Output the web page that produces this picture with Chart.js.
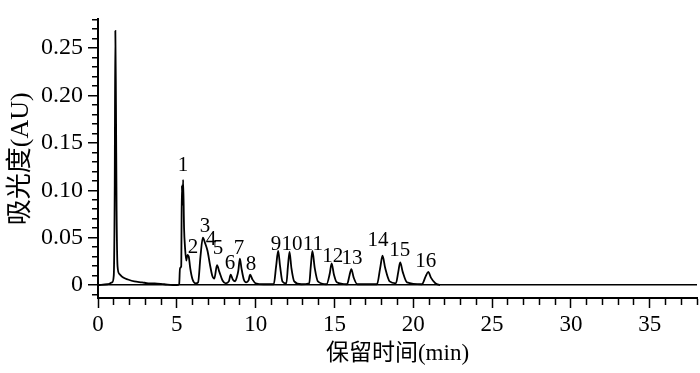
<!DOCTYPE html>
<html>
<head>
<meta charset="utf-8">
<script src="https://cdn.jsdelivr.net/npm/chart.js@4/dist/chart.umd.min.js"></script>
<style>
html,body{margin:0;padding:0;background:#fff;}
#wrap{width:700px;height:373px;}
</style>
</head>
<body>
<div id="wrap"><canvas id="c" width="700" height="373"></canvas></div>
<script>
// Retention time (min) and absorbance (AU)
const retentionTime = [
  0.0, 0.6, 0.9, 1.0, 1.06, 1.1, 1.14, 1.18, 1.24, 1.35, 1.6, 1.9, 2.3, 2.8, 3.2, 3.6, 4.2, 5.0,
  5.15, 5.2, 5.28, 5.32, 5.36, 5.4, 5.46, 5.52, 5.6, 5.68, 5.76, 5.85, 6.0, 6.2, 6.35,
  6.5, 6.65, 6.8, 6.95, 7.1, 7.25, 7.38, 7.55, 7.7, 7.9, 8.1, 8.3, 8.42, 8.55, 8.7,
  8.8, 8.9, 9.0, 9.1, 9.25, 9.4, 9.55, 9.65, 9.8, 10.0, 10.5,
  11.15, 11.3, 11.43, 11.55, 11.7, 11.95, 12.05, 12.15, 12.27, 12.45, 12.9,
  13.4, 13.5, 13.6, 13.75, 13.95, 14.5, 14.7, 14.82, 14.97, 15.15, 15.8, 15.95, 16.07, 16.22, 16.45,
  17.7, 17.9, 18.05, 18.22, 18.5, 18.9, 19.05, 19.17, 19.33, 19.6,
  20.55, 20.78, 20.95, 21.12, 21.4, 21.7
];
const absorbance = [
  0.0, 0.001, 0.003, 0.01, 0.1, 0.268, 0.19, 0.078, 0.02, 0.012, 0.008, 0.006, 0.004, 0.003, 0.002, 0.002, 0.001, 0.0,
  0.001, 0.018, 0.02, 0.105, 0.085, 0.111, 0.06, 0.04, 0.026, 0.032, 0.03, 0.018, 0.006, 0.002, 0.003,
  0.03, 0.05, 0.044, 0.036, 0.022, 0.01, 0.007, 0.021, 0.014, 0.005, 0.002, 0.004, 0.011, 0.006, 0.004,
  0.008, 0.015, 0.028, 0.018, 0.006, 0.003, 0.005, 0.011, 0.006, 0.002, 0.001,
  0.001, 0.02, 0.036, 0.02, 0.004, 0.002, 0.02, 0.035, 0.018, 0.004, 0.001,
  0.002, 0.02, 0.036, 0.018, 0.004, 0.001, 0.012, 0.023, 0.011, 0.003, 0.001, 0.01, 0.017, 0.008, 0.001,
  0.001, 0.018, 0.031, 0.018, 0.004, 0.002, 0.014, 0.024, 0.014, 0.003,
  0.001, 0.009, 0.014, 0.008, 0.002, 0.0
];
// Peak number labels and their anchor (time, absorbance)
const peakLabels = ['1','2','3','4','5','6','7','8','9','10','11','12','13','14','15','16'];
const peakLabelTime = [5.39, 6.02, 6.79, 7.17, 7.61, 8.37, 8.94, 9.70, 11.29, 12.30, 13.63, 14.90, 16.11, 17.76, 19.15, 20.80];
const peakLabelAbs  = [0.126, 0.040, 0.062, 0.048, 0.039, 0.023, 0.039, 0.022, 0.043, 0.043, 0.043, 0.030, 0.028, 0.047, 0.037, 0.025];
const yTickLabels = ['0', '0.05', '0.10', '0.15', '0.20', '0.25'];
const xTickLabels = ['0', '5', '10', '15', '20', '25', '30', '35'];

const FONT = "'Liberation Serif', 'Noto Sans CJK SC', serif";

const points = retentionTime.map((t, i) => ({x: t, y: absorbance[i]}));

const peakLabelPlugin = {
  id: 'peakLabels',
  afterDatasetsDraw(chart) {
    const {ctx, scales: {x, y}} = chart;
    ctx.save();
    ctx.fillStyle = '#000';
    ctx.font = '21px ' + FONT;
    ctx.textAlign = 'center';
    ctx.textBaseline = 'middle';
    peakLabels.forEach((lab, i) => {
      ctx.fillText(lab, x.getPixelForValue(peakLabelTime[i]), y.getPixelForValue(peakLabelAbs[i]));
    });
    ctx.restore();
  }
};

const isMajorY = v => Math.round(v * 100) % 5 === 0 && v >= -1e-9;
const isMajorX = v => Math.round(v) % 5 === 0;

new Chart(document.getElementById('c'), {
  type: 'line',
  data: {
    datasets: [{
      data: points,
      borderColor: '#000',
      borderWidth: 1.8,
      pointRadius: 0,
      cubicInterpolationMode: 'monotone',
      fill: false
    }]
  },
  options: {
    responsive: false,
    animation: false,
    events: [],
    layout: {padding: {top: 14, right: 3, left: 0, bottom: 0}},
    plugins: {legend: {display: false}, tooltip: {enabled: false}},
    scales: {
      x: {
        type: 'linear',
        position: 'bottom',
        min: 0,
        max: 38,
        border: {display: true, color: '#000', width: 2},
        grid: {
          drawOnChartArea: false,
          color: '#000',
          tickColor: '#000',
          tickLength: 10,
          tickWidth: 1.5,
          tickBorderDash: ctx => isMajorX(ctx.tick.value) ? [] : [6, 100]
        },
        ticks: {
          stepSize: 1,
          includeBounds: false,
          autoSkip: false,
          maxRotation: 0,
          padding: 3,
          color: '#000',
          font: {family: FONT, size: 23},
          callback: v => isMajorX(v) ? xTickLabels[Math.round(v) / 5] : ''
        },
        title: {
          display: true,
          text: '保留时间(min)',
          color: '#000',
          font: {family: FONT, size: 23},
          padding: {top: 0, bottom: 5}
        },
        afterFit: s => { s.height = 75; }
      },
      y: {
        type: 'linear',
        min: -0.0135,
        max: 0.28,
        border: {display: true, color: '#000', width: 2},
        grid: {
          drawOnChartArea: true,
          color: ctx => (ctx.tick && Math.abs(ctx.tick.value) < 1e-9) ? '#000' : 'rgba(0,0,0,0)',
          lineWidth: 1.5,
          tickColor: '#000',
          tickLength: 10,
          tickWidth: 1.5,
          tickBorderDash: ctx => isMajorY(ctx.tick.value) ? [] : [0, 4, 6, 100]
        },
        ticks: {
          stepSize: 0.01,
          includeBounds: false,
          autoSkip: false,
          padding: 5,
          color: '#000',
          font: {family: FONT, size: 24},
          callback: v => isMajorY(v) ? yTickLabels[Math.round(v * 100) / 5] : ''
        },
        title: {
          display: true,
          text: '吸光度(AU)',
          color: '#000',
          font: {family: FONT, size: 26},
          padding: {top: 6, bottom: 0}
        },
        afterFit: s => { s.width = 98; }
      }
    }
  },
  plugins: [peakLabelPlugin]
});
</script>
</body>
</html>
